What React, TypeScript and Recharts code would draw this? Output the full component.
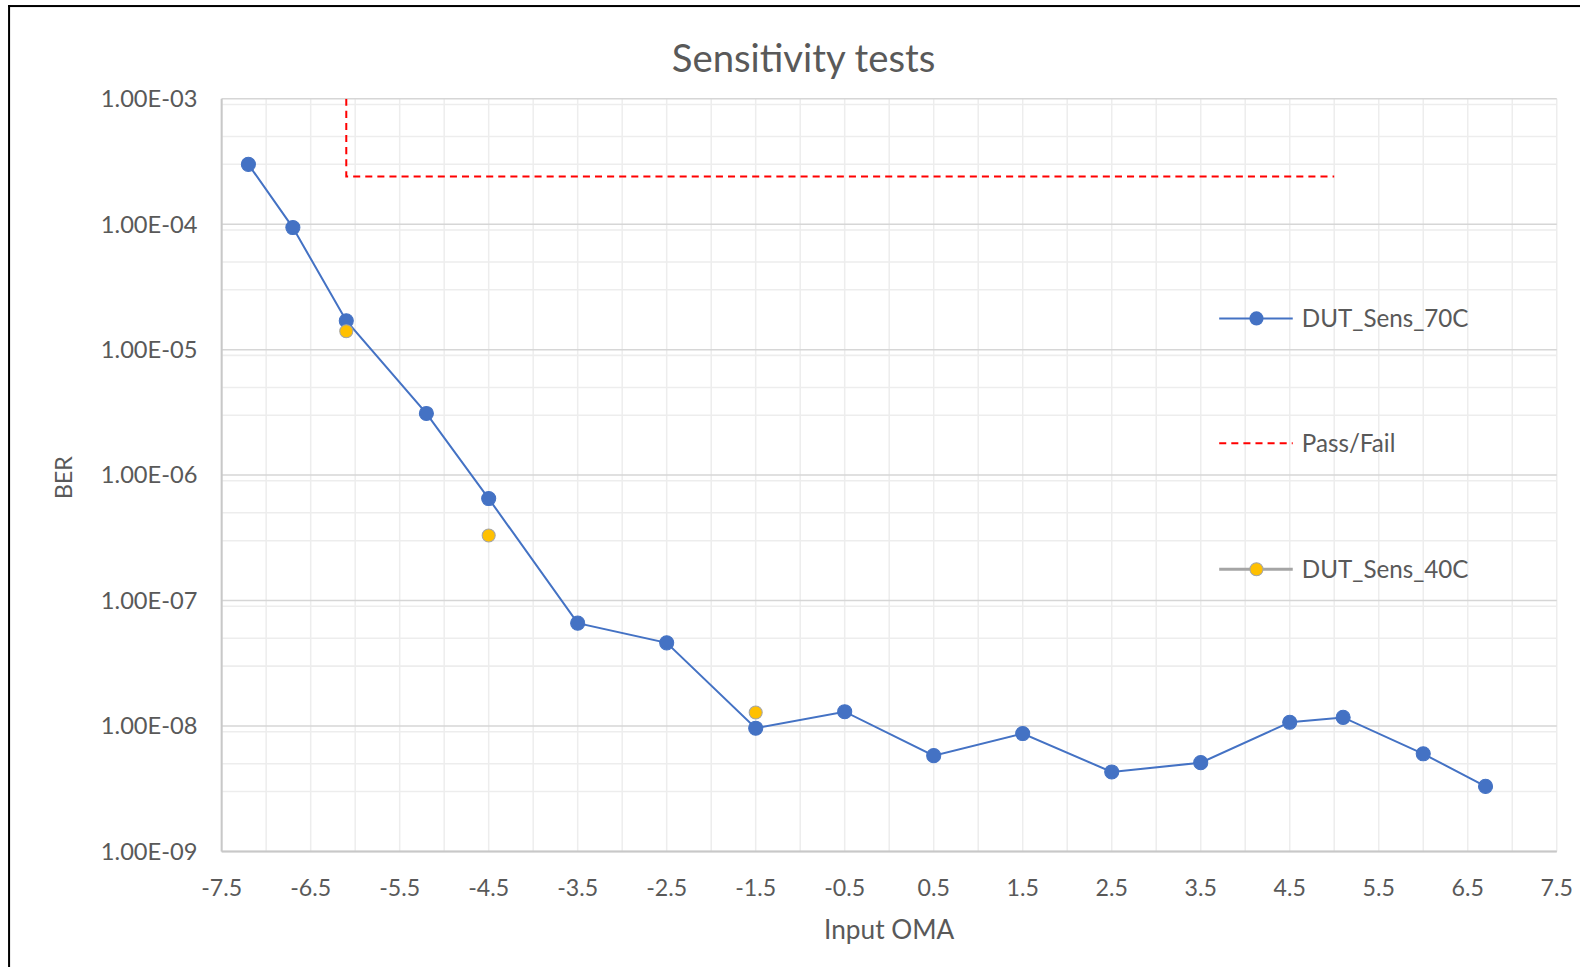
import {
  ComposedChart,
  Line,
  XAxis,
  YAxis,
  CartesianGrid,
} from "recharts";

// Input OMA / BER readings, 70C run
const oma70 = [-7.2, -6.7, -6.1, -5.2, -4.5, -3.5, -2.5, -1.5, -0.5, 0.5, 1.5, 2.5, 3.5, 4.5, 5.1, 6.0, 6.7];
const ber70 = [
  3.0e-4, 9.4e-5, 1.7e-5, 3.1e-6, 6.5e-7, 6.6e-8, 4.6e-8, 9.6e-9, 1.3e-8,
  5.8e-9, 8.7e-9, 4.3e-9, 5.1e-9, 1.07e-8, 1.17e-8, 6.0e-9, 3.3e-9,
];

// 40C run, only three points
const oma40 = [-6.1, -4.5, -1.5];
const ber40 = [1.4e-5, 3.3e-7, 1.28e-8];

// pass/fail limit
const passFailOma = [-6.1, -6.1, 5.0];
const passFailBer = [1e-3, 2.4e-4, 2.4e-4];

const xTicks = [-7.5, -6.5, -5.5, -4.5, -3.5, -2.5, -1.5, -0.5, 0.5, 1.5, 2.5, 3.5, 4.5, 5.5, 6.5, 7.5];
const yTicks = [1e-9, 1e-8, 1e-7, 1e-6, 1e-5, 1e-4, 1e-3];
const minorMantissas = [2, 3, 4, 5, 6, 7, 8, 9];

const data70 = oma70.map((x, i) => ({ x, ber: ber70[i] }));
const data40 = oma40.map((x, i) => ({ x, ber: ber40[i] }));
const passFail = passFailOma.map((x, i) => ({ x, ber: passFailBer[i] }));

const verticalGrid: number[] = [];
for (let v = -7.5; v <= 7.5; v += 0.5) verticalGrid.push(v);
const minorHorizontal: number[] = [];
yTicks.slice(0, -1).forEach((d) => minorMantissas.forEach((m) => minorHorizontal.push(d * m)));

const FONT = "Lato, 'Open Sans', sans-serif";
const TEXT = "#595959";

const formatBer = (v: number) => {
  const exp = Math.round(Math.log10(v));
  const mant = v / Math.pow(10, exp);
  const sign = exp < 0 ? "-" : "+";
  return `${mant.toFixed(2)}E${sign}${String(Math.abs(exp)).padStart(2, "0")}`;
};

function LegendBox() {
  const row = (top: number, icon: JSX.Element, label: string) => (
    <div style={{ position: "absolute", left: 0, top, display: "flex", alignItems: "center", height: 20 }}>
      <svg width={80} height={20}>{icon}</svg>
      <span style={{ marginLeft: 4, fontSize: 24, color: TEXT, fontFamily: FONT, lineHeight: "20px" }}>{label}</span>
    </div>
  );
  return (
    <div style={{ position: "absolute", left: 1208, top: 306, width: 300, height: 280 }}>
      {row(
        0,
        <g>
          <line x1={2} y1={10} x2={75} y2={10} stroke="#4472C4" strokeWidth={2} />
          <circle cx={39} cy={10} r={7} fill="#4472C4" />
        </g>,
        "DUT_Sens_70C"
      )}
      {row(
        124,
        <line x1={2} y1={10} x2={75} y2={10} stroke="#FF0000" strokeWidth={2} strokeDasharray="7 5" />,
        "Pass/Fail"
      )}
      {row(
        249,
        <g>
          <line x1={2} y1={10} x2={75} y2={10} stroke="#A5A5A5" strokeWidth={3} />
          <circle cx={39} cy={10} r={6.5} fill="#FFC000" stroke="#A5A5A5" strokeWidth={1} />
        </g>,
        "DUT_Sens_40C"
      )}
    </div>
  );
}

export default function App() {
  return (
    <div
      style={{
        position: "fixed",
        left: 0,
        top: 0,
        width: 1580,
        height: 967,
        overflow: "hidden",
        background: "#fff",
        fontFamily: FONT,
        transform: "scale(1.0076)",
        transformOrigin: "0 0",
      }}
    >
      <div
        style={{
          position: "absolute",
          left: 8,
          top: 5,
          width: 1572,
          height: 962,
          boxSizing: "border-box",
          borderTop: "2px solid #000",
          borderLeft: "2px solid #000",
        }}
      />
      <div style={{ position: "absolute", left: 0, top: 33, width: 1580, textAlign: "center", fontSize: 38, color: TEXT, paddingLeft: 15, boxSizing: "border-box" }}>
        Sensitivity tests
      </div>
      <div
        style={{
          position: "absolute",
          left: 62,
          top: 474,
          transform: "translate(-50%, -50%) rotate(-90deg)",
          fontSize: 23,
          color: TEXT,
        }}
      >
        BER
      </div>
      <div style={{ position: "absolute", left: 220, width: 1325, top: 906, textAlign: "center", fontSize: 26, color: TEXT }}>
        Input OMA
      </div>
      <div style={{ position: "absolute", left: 0, top: 0 }}>
        <ComposedChart width={1580} height={967} margin={{ top: 98, right: 35, bottom: 62, left: 100 }}>
          <CartesianGrid
            stroke="#EDEDED"
            strokeWidth={1.5}
            horizontalValues={minorHorizontal}
            verticalValues={verticalGrid}
          />
          <CartesianGrid stroke="#D6D6D6" strokeWidth={1.5} vertical={false} horizontalValues={yTicks} />
          <XAxis
            dataKey="x"
            type="number"
            domain={[-7.5, 7.5]}
            ticks={xTicks}
            allowDataOverflow
            height={60}
            tickLine={false}
            axisLine={{ stroke: "#C8C8C8", strokeWidth: 2 }}
            tickMargin={22}
            tick={{ fill: TEXT, fontSize: 23, fontFamily: FONT }}
          />
          <YAxis
            dataKey="ber"
            scale="log"
            domain={[1e-9, 1e-3]}
            ticks={yTicks}
            allowDataOverflow
            width={120}
            tickLine={false}
            axisLine={{ stroke: "#C8C8C8", strokeWidth: 2 }}
            tickMargin={18}
            tickFormatter={formatBer}
            tick={{ fill: TEXT, fontSize: 23.5, fontFamily: FONT }}
          />
          <Line
            data={passFail}
            dataKey="ber"
            name="Pass/Fail"
            stroke="#FF0000"
            strokeWidth={2}
            strokeDasharray="7 5"
            dot={false}
            activeDot={false}
            isAnimationActive={false}
          />
          <Line
            data={data70}
            dataKey="ber"
            name="DUT_Sens_70C"
            stroke="#4472C4"
            strokeWidth={2}
            dot={{ r: 7, fill: "#4472C4", stroke: "#4472C4", strokeWidth: 1 }}
            activeDot={false}
            isAnimationActive={false}
          />
          <Line
            data={data40}
            dataKey="ber"
            name="DUT_Sens_40C"
            stroke="none"
            dot={{ r: 6.5, fill: "#FFC000", stroke: "#A5A5A5", strokeWidth: 1 }}
            activeDot={false}
            isAnimationActive={false}
          />
        </ComposedChart>
      </div>
      <LegendBox />
    </div>
  );
}
